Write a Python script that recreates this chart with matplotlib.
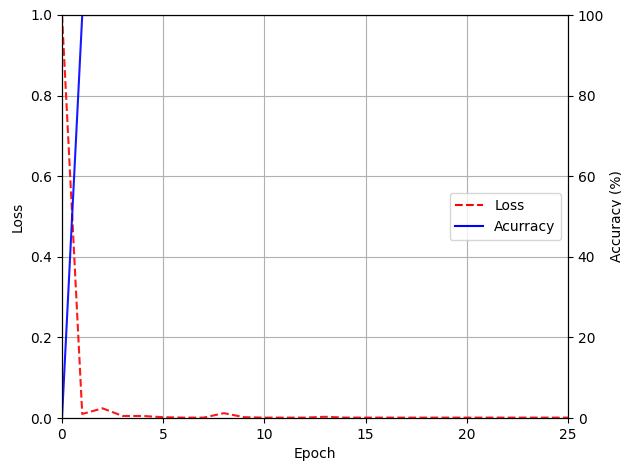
import matplotlib
matplotlib.use('Agg')
import matplotlib.pyplot as plt

epochs = list(range(0, 26))
loss = [1.0, 0.01, 0.024, 0.005, 0.005, 0.002, 0.001, 0.001, 0.012, 0.002, 0.001, 0.001, 0.001,
        0.003, 0.001, 0.001, 0.001, 0.001, 0.001, 0.001, 0.001, 0.001, 0.001, 0.001, 0.001, 0.001]
accuracy = [0.0] + [100.0] * 25

fig = plt.figure(figsize=(6.21, 4.65), dpi=100)
ax1 = fig.add_axes([62 / 621, 1 - 418 / 465, (568 - 62) / 621, (418 - 15) / 465])
ax2 = ax1.twinx()

l1, = ax1.plot(epochs, loss, 'r--', alpha=0.9, label='Loss')
l2, = ax2.plot(epochs, accuracy, 'b-', alpha=0.9, label='Acurracy')

ax1.set_xlim(0, 25)
ax1.set_ylim(0, 1)
ax2.set_ylim(0, 100)
ax1.set_xlabel('Epoch')
ax1.set_ylabel('Loss')
ax2.set_ylabel('Accuracy (%)')
ax1.grid(True)

leg = ax1.legend([l1, l2], ['Loss', 'Acurracy'], loc='center right')
for h in leg.legend_handles:
    h.set_alpha(1)

fig.savefig('out.png', dpi=100)
